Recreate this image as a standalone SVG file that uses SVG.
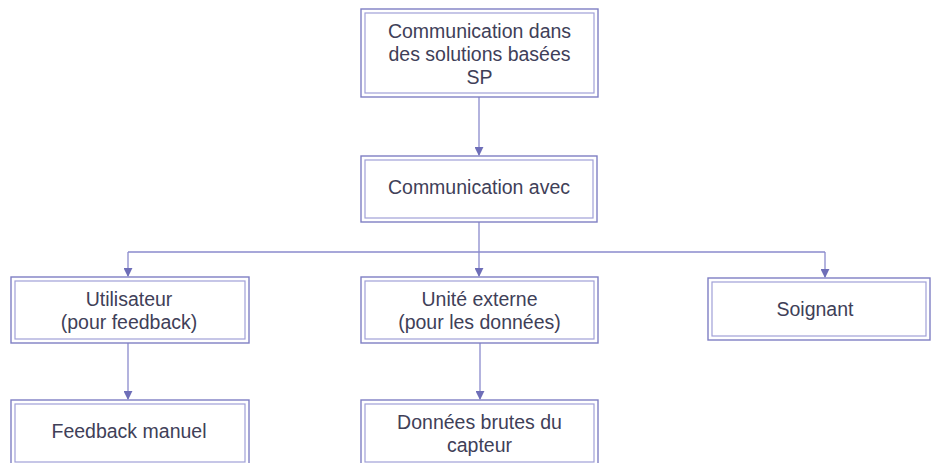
<svg xmlns="http://www.w3.org/2000/svg" width="932" height="463" viewBox="0 0 932 463">
  <style>
    .outer { fill: #ffffff; stroke: #7f7fc4; stroke-width: 1.4; }
    .inner { fill: none; stroke: #a0a0d8; stroke-width: 1.2; }
    .lbl { font-family: "Liberation Sans", Arial, sans-serif; font-size: 19.5px; fill: #404058; text-anchor: middle; }
    .wire { fill: none; stroke: #8a8acc; stroke-width: 1.3; }
  </style>
  <defs>
    <marker id="arrow" viewBox="0 0 10 10" refX="9" refY="5" markerWidth="9" markerHeight="9" markerUnits="userSpaceOnUse" orient="auto">
      <path d="M0,0 L10,5 L0,10 Z" fill="#6e6eb8"/>
    </marker>
  </defs>
  <rect width="932" height="463" fill="#ffffff"/>

  <g id="connectors">
    <line class="wire" x1="479" y1="97" x2="479" y2="155" marker-end="url(#arrow)"/>
    <line class="wire" x1="479" y1="222" x2="479" y2="276" marker-end="url(#arrow)"/>
    <line class="wire" x1="128" y1="252" x2="825" y2="252"/>
    <line class="wire" x1="128" y1="252" x2="128" y2="276" marker-end="url(#arrow)"/>
    <line class="wire" x1="825" y1="252" x2="825" y2="277" marker-end="url(#arrow)"/>
    <line class="wire" x1="128" y1="343" x2="128" y2="399" marker-end="url(#arrow)"/>
    <line class="wire" x1="480" y1="343" x2="480" y2="399" marker-end="url(#arrow)"/>
  </g>

  <g id="node-root">
    <rect class="outer" x="361" y="9" width="237" height="88"/>
    <rect class="inner" x="365" y="13" width="229" height="80"/>
    <text class="lbl" x="479.5" y="38">Communication dans</text>
    <text class="lbl" x="479.5" y="61">des solutions basées</text>
    <text class="lbl" x="479.5" y="84">SP</text>
  </g>

  <g id="node-comm">
    <rect class="outer" x="361" y="156" width="236" height="66"/>
    <rect class="inner" x="365" y="160" width="228" height="58"/>
    <text class="lbl" x="479" y="194">Communication avec</text>
  </g>

  <g id="node-user">
    <rect class="outer" x="11" y="277" width="238" height="66"/>
    <rect class="inner" x="15" y="281" width="230" height="58"/>
    <text class="lbl" x="129" y="306">Utilisateur</text>
    <text class="lbl" x="129" y="329">(pour feedback)</text>
  </g>

  <g id="node-unit">
    <rect class="outer" x="361" y="277" width="237" height="66"/>
    <rect class="inner" x="365" y="281" width="229" height="58"/>
    <text class="lbl" x="479.5" y="306">Unité externe</text>
    <text class="lbl" x="479.5" y="329">(pour les données)</text>
  </g>

  <g id="node-carer">
    <rect class="outer" x="708" y="278" width="222" height="62"/>
    <rect class="inner" x="712" y="282" width="214" height="54"/>
    <text class="lbl" x="815" y="316">Soignant</text>
  </g>

  <g id="node-feedback">
    <rect class="outer" x="11" y="400" width="238" height="66"/>
    <rect class="inner" x="15" y="404" width="230" height="58"/>
    <text class="lbl" x="129" y="438">Feedback manuel</text>
  </g>

  <g id="node-raw">
    <rect class="outer" x="361" y="400" width="237" height="66"/>
    <rect class="inner" x="365" y="404" width="229" height="58"/>
    <text class="lbl" x="479.5" y="429">Données brutes du</text>
    <text class="lbl" x="479.5" y="452">capteur</text>
  </g>
</svg>
